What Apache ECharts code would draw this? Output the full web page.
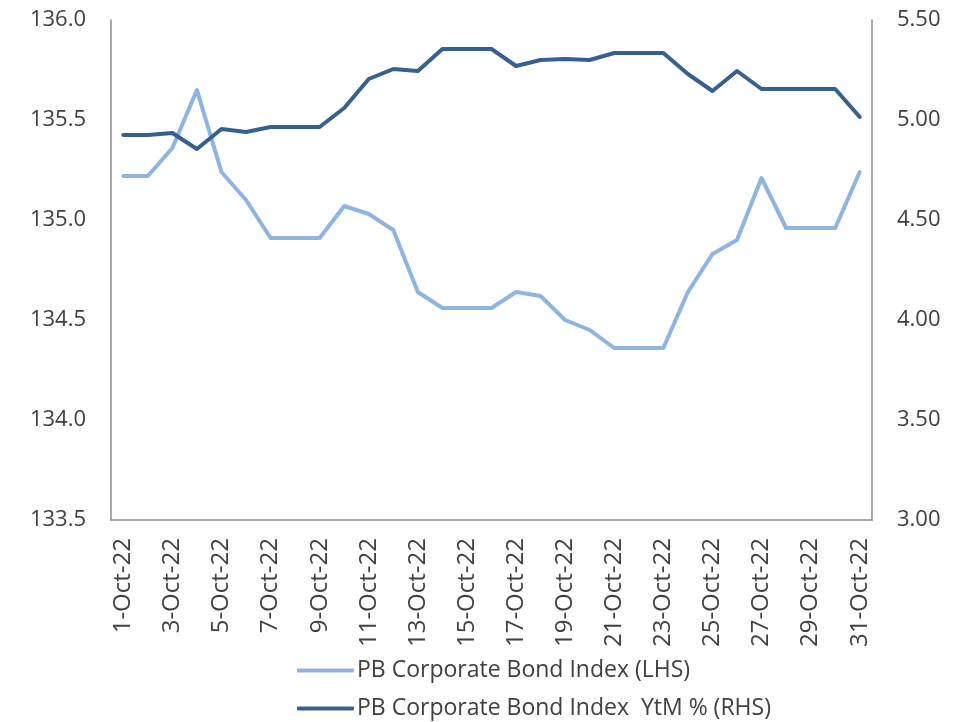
<!DOCTYPE html>
<html>
<head>
<meta charset="utf-8">
<script src="https://cdn.jsdelivr.net/npm/echarts@6/dist/echarts.min.js"></script>
<style>
  html, body { margin: 0; padding: 0; background: #fff; }
  #chart { width: 966px; height: 722px; }
</style>
</head>
<body>
<div id="chart"></div>
<script>
  // categories: every day of October 2022
  var days = [];
  for (var d = 1; d <= 31; d++) days.push(d + '-Oct-22');

  var indexLhs = [
    135.22, 135.22, 135.36, 135.65, 135.24, 135.10, 134.91, 134.91, 134.91, 135.07,
    135.03, 134.95, 134.64, 134.56, 134.56, 134.56, 134.64, 134.62, 134.50, 134.45,
    134.36, 134.36, 134.36, 134.64, 134.83, 134.90, 135.21, 134.96, 134.96, 134.96,
    135.24
  ];
  var ytmRhs = [
    4.925, 4.925, 4.935, 4.855, 4.955, 4.94, 4.965, 4.965, 4.965, 5.06,
    5.205, 5.255, 5.245, 5.355, 5.355, 5.355, 5.27, 5.30, 5.305, 5.30,
    5.335, 5.335, 5.335, 5.23, 5.145, 5.245, 5.155, 5.155, 5.155, 5.155,
    5.015
  ];
  var names = ['PB Corporate Bond Index (LHS)', 'PB Corporate Bond Index  YtM % (RHS)'];

  var font = '"Open Sans", sans-serif';
  var txt = '#404040';
  var axisGray = '#8c8c8c';

  var chart = echarts.init(document.getElementById('chart'));
  chart.setOption({
    animation: false,
    grid: { left: 111, right: 94, top: 20, bottom: 202 },
    legend: {
      orient: 'vertical',
      left: 292,
      top: 654,
      height: 100,
      itemWidth: 57,
      itemHeight: 4,
      itemGap: 15,
      icon: 'roundRect',
      textStyle: { fontFamily: font, fontSize: 23, color: txt, padding: [0, 0, 0, -2] },
      data: names
    },
    xAxis: {
      type: 'category',
      data: days,
      boundaryGap: true,
      axisLine: { lineStyle: { color: axisGray, width: 1.5 } },
      axisTick: { interval: 1, length: 7, lineStyle: { color: axisGray, width: 1.5 } },
      axisLabel: {
        interval: 1, rotate: 90, margin: 18,
        fontFamily: font, fontSize: 24, color: txt
      }
    },
    yAxis: [{
      type: 'value',
      min: 133.5, max: 136.0, interval: 0.5,
      splitLine: { show: false },
      axisLine: { show: true, lineStyle: { color: axisGray, width: 1.5 } },
      axisTick: { show: false },
      axisLabel: {
        margin: 25, fontFamily: font, fontSize: 22, color: txt,
        formatter: function (v) { return v.toFixed(1); }
      }
    }, {
      type: 'value',
      min: 3.0, max: 5.5, interval: 0.5,
      splitLine: { show: false },
      axisLine: { show: true, lineStyle: { color: axisGray, width: 1.5 } },
      axisTick: { show: false },
      axisLabel: {
        margin: 25, fontFamily: font, fontSize: 22, color: txt,
        formatter: function (v) { return v.toFixed(2); }
      }
    }],
    series: [{
      name: names[0],
      type: 'line',
      yAxisIndex: 0,
      data: indexLhs,
      symbol: 'none',
      color: '#8db4e2',
      lineStyle: { width: 4, color: '#8db4e2', cap: 'round', join: 'round' }
    }, {
      name: names[1],
      type: 'line',
      yAxisIndex: 1,
      data: ytmRhs,
      symbol: 'none',
      color: '#376092',
      lineStyle: { width: 4, color: '#376092', cap: 'round', join: 'round' }
    }]
  });
</script>
</body>
</html>
